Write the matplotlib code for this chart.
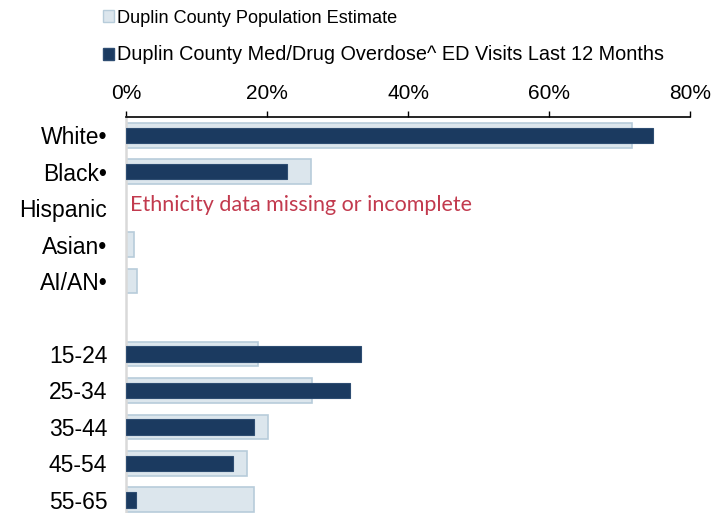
import matplotlib.pyplot as plt
from matplotlib.patches import Patch

plt.rcParams['font.family'] = ['Liberation Sans', 'DejaVu Sans']

categories = ['White\u2022', 'Black\u2022', 'Hispanic', 'Asian\u2022', 'AI/AN\u2022', '',
              '15-24', '25-34', '35-44', '45-54', '55-65']
population = [71.8, 26.2, None, 1.2, 1.5, None, 18.7, 26.4, 20.1, 17.1, 18.1]
ed_visits = [74.8, 22.9, None, None, None, None, 33.4, 31.8, 18.2, 15.2, 1.4]
ticks = [0, 20, 40, 60, 80]
tick_labels = ['0%', '20%', '40%', '60%', '80%']
note = 'Ethnicity data missing or incomplete'

pop_color = '#dce6ed'
pop_edge = '#b7ccda'
ed_color = '#1b3a60'
ed_edge = '#2e4d72'

fig = plt.figure(figsize=(7.19, 5.13), dpi=100)
ax = fig.add_axes([126 / 719, 0, (690 - 126) / 719, 1 - 117 / 513])

for i, (p, e) in enumerate(zip(population, ed_visits)):
    if p is not None:
        ax.barh(i, p, height=0.68, color=pop_color, edgecolor=pop_edge, linewidth=1.2, zorder=2)
    if e is not None:
        ax.barh(i, e, height=0.42, color=ed_color, edgecolor=ed_edge, linewidth=0.8, zorder=3)

ax.text(0.6, 1.92, note, color='#c23a4e', fontsize=15.5, va='center', ha='left',
        family=['Lato', 'DejaVu Sans'])

ax.set_xlim(0, 80)
ax.set_ylim(10.36, -0.5)
ax.set_yticks(range(len(categories)))
ax.set_yticklabels(categories, fontsize=16.5)
ax.tick_params(axis='y', length=0, pad=13.5)
ax.xaxis.tick_top()
ax.set_xticks(ticks)
ax.set_xticklabels(tick_labels, fontsize=15)
ax.tick_params(axis='x', direction='out', length=4.5, width=1.0, pad=5.5, color='black')

for s in ['right', 'bottom']:
    ax.spines[s].set_visible(False)
ax.spines['top'].set_linewidth(1.2)
ax.spines['left'].set_color('#d9d9d9')
ax.spines['left'].set_linewidth(1.8)

handles = [Patch(facecolor=pop_color, edgecolor=pop_edge, label='Duplin County Population Estimate'),
           Patch(facecolor=ed_color, edgecolor=ed_edge,
                 label='Duplin County Med/Drug Overdose^ ED Visits Last 12 Months')]
leg = fig.legend(handles=handles, loc='upper left', bbox_to_anchor=(99 / 719, 1 - 6 / 513),
                 frameon=False, fontsize=13.3, handlelength=0.6, handleheight=0.6,
                 handletextpad=0.2, labelspacing=1.0, borderpad=0.2, borderaxespad=0)
leg.get_texts()[0].set_fontsize(13.1)
leg.get_texts()[1].set_fontsize(14.3)

fig.savefig('out.png', dpi=100)
